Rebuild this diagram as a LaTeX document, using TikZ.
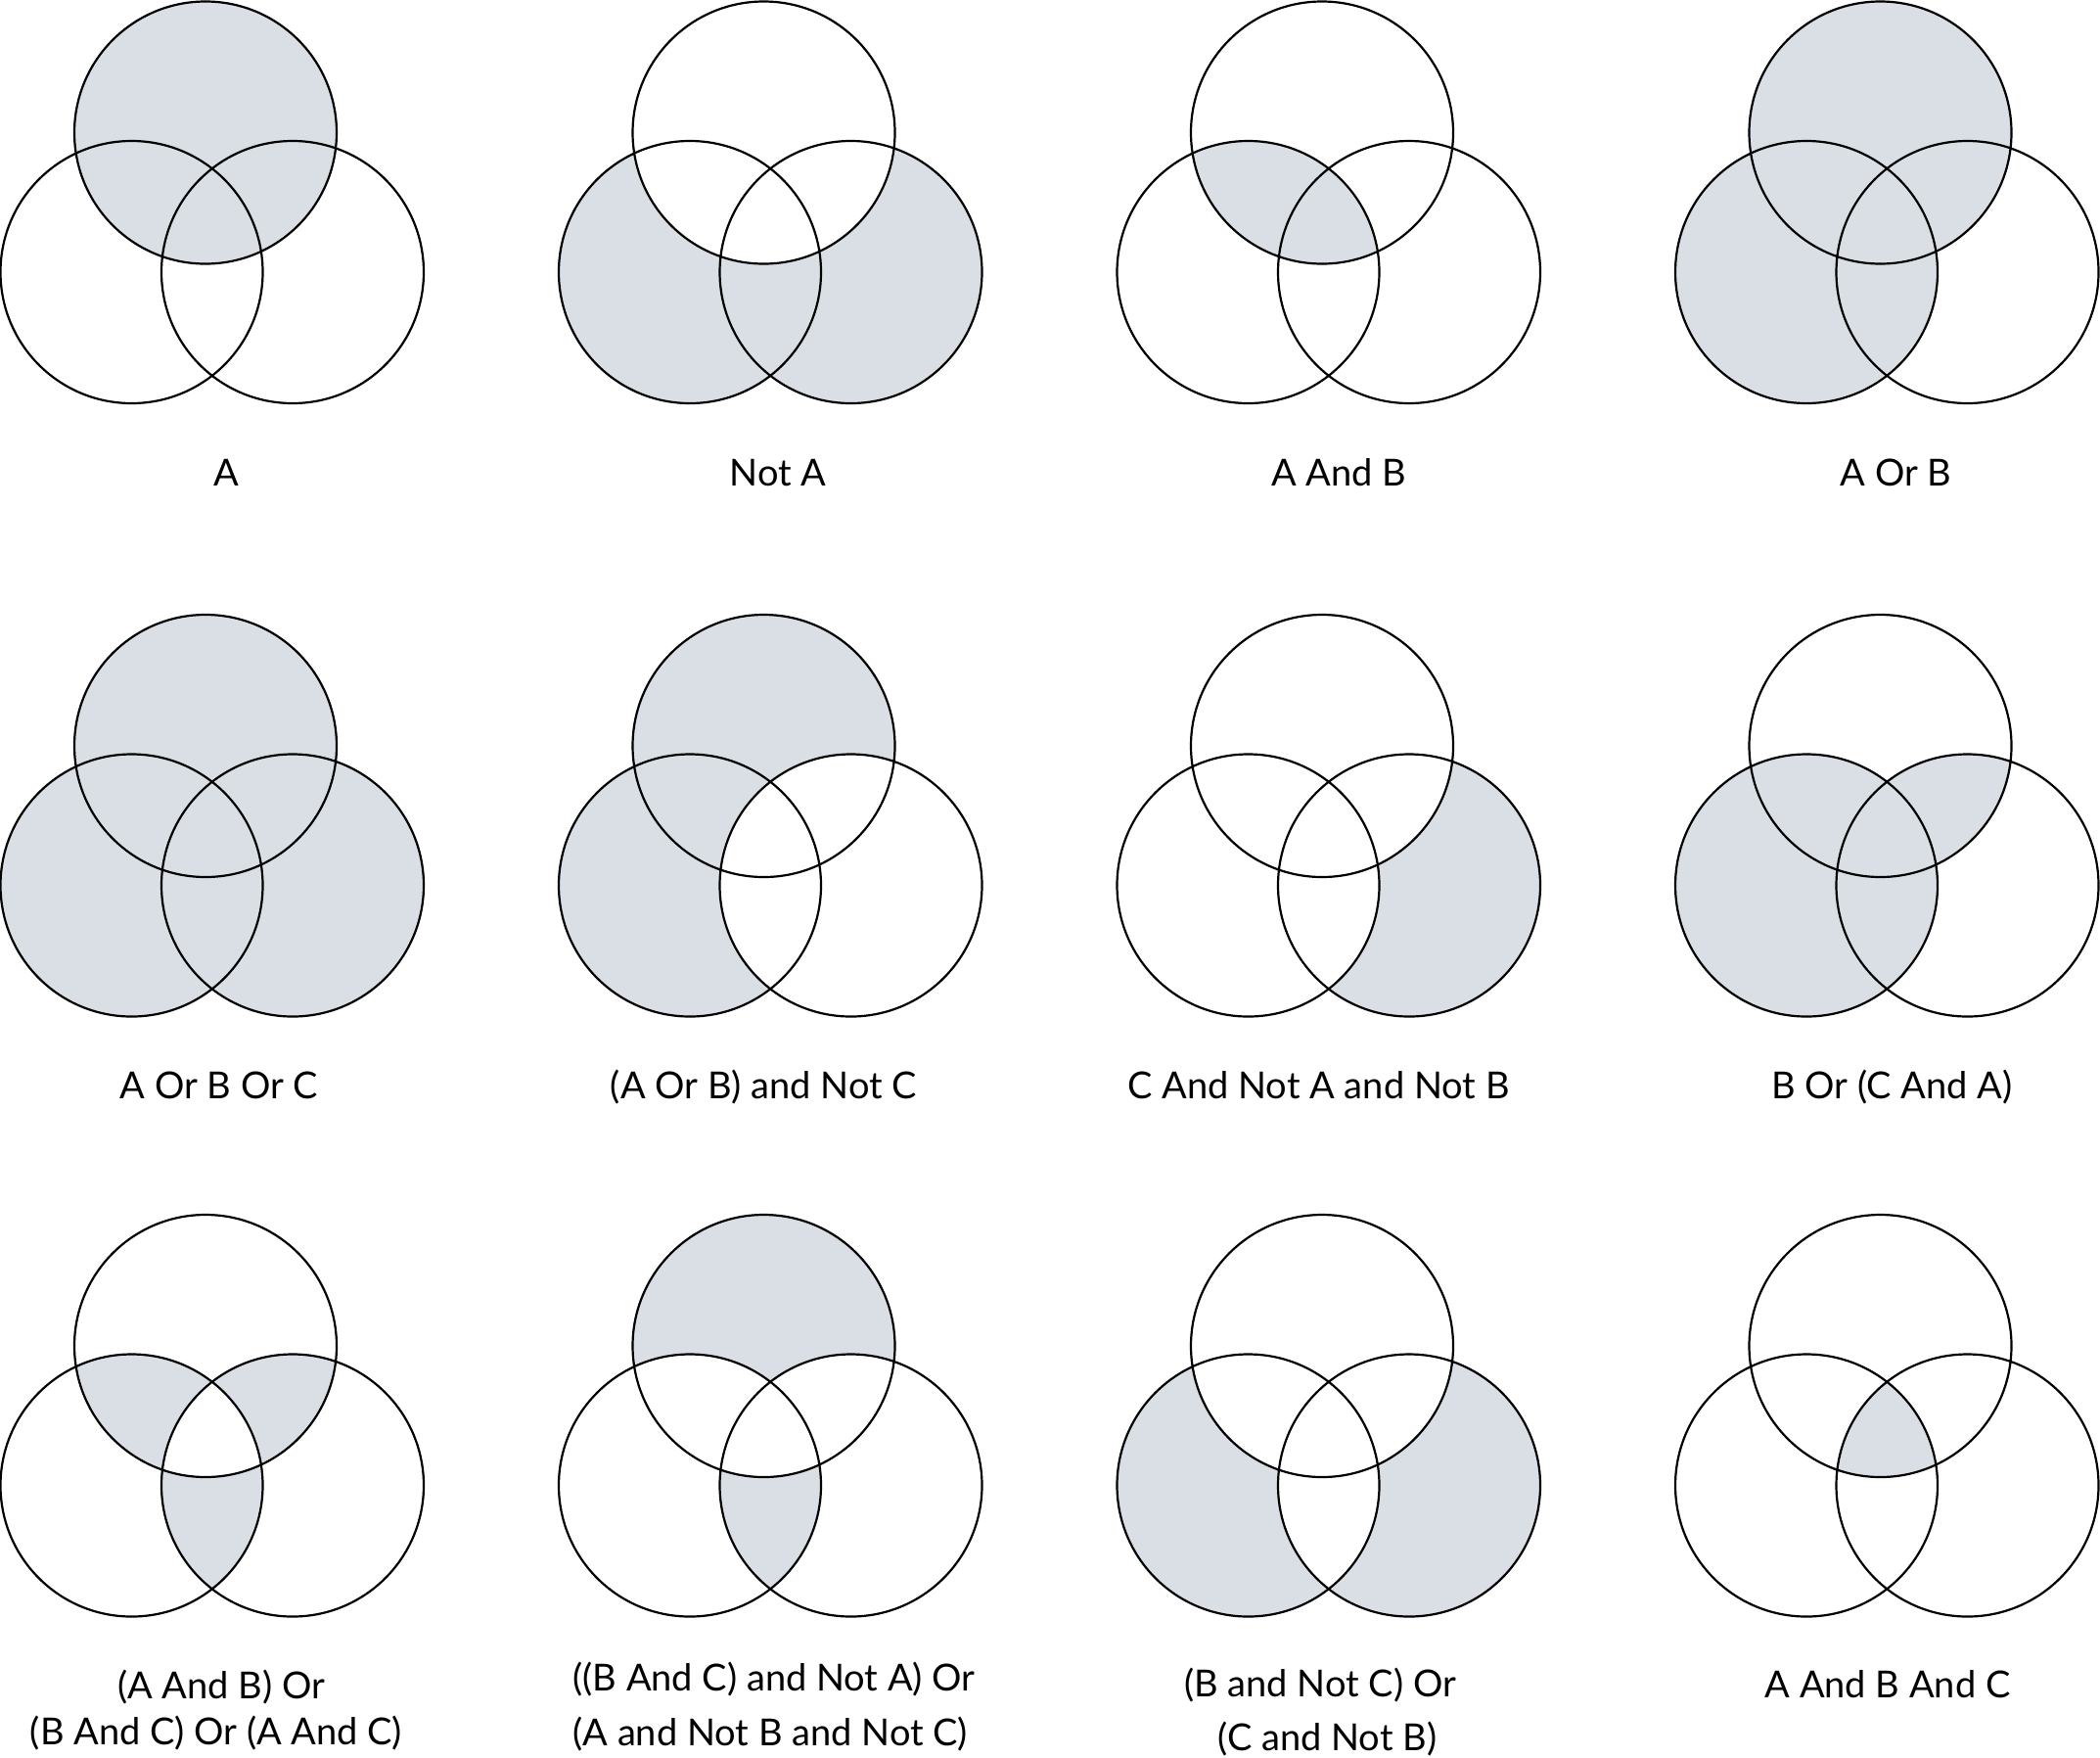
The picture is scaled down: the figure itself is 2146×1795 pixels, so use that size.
\documentclass[tikz,border=0pt]{standalone}
\usepackage{fontspec}
\setmainfont{Lato}
\definecolor{vennblue}{RGB}{218,223,229}
\newcommand{\vennr}{134}
% three circles of one diagram: A on top, B left, C right
\newcommand{\setvenn}[3]{%
  \coordinate (#1a) at (#2,#3);
  \coordinate (#1b) at (#2-75.5,#3+142.5);
  \coordinate (#1c) at (#2+89,#3+142.5);}
\newcommand{\vennout}[1]{\draw[vennline] (#1a) circle (\vennr) (#1b) circle (\vennr) (#1c) circle (\vennr);}
\tikzset{
  vennline/.style={draw=black,line width=1.1pt},
  vennfill/.style={fill=vennblue},
  venntext/.style={anchor=base,inner sep=0pt,text=black,font=\fontsize{19}{23}\selectfont}
}
\begin{document}
\begin{tikzpicture}[x=0.5pt,y=0.5pt,yscale=-1,xscale=1]
\useasboundingbox (0,0) rectangle (2146,1795);

%Venn: A
\setvenn{v1}{210}{135.5}
\fill[vennfill] (v1a) circle (\vennr);
\vennout{v1}

%Venn: Not A
\setvenn{v2}{780.5}{135.5}
\fill[vennfill] (v2b) circle (\vennr) (v2c) circle (\vennr);
\fill[white] (v2a) circle (\vennr);
\vennout{v2}

%Venn: A And B
\setvenn{v3}{1351}{135.5}
\begin{scope}
\clip (v3a) circle (\vennr);
\fill[vennfill] (v3b) circle (\vennr);
\end{scope}
\vennout{v3}

%Venn: A Or B
\setvenn{v4}{1921.5}{135.5}
\fill[vennfill] (v4a) circle (\vennr) (v4b) circle (\vennr);
\vennout{v4}

%Venn: A Or B Or C
\setvenn{v5}{210}{762}
\fill[vennfill] (v5a) circle (\vennr) (v5b) circle (\vennr) (v5c) circle (\vennr);
\vennout{v5}

%Venn: (A Or B) and Not C
\setvenn{v6}{780.5}{762}
\fill[vennfill] (v6a) circle (\vennr) (v6b) circle (\vennr);
\fill[white] (v6c) circle (\vennr);
\vennout{v6}

%Venn: C And Not A and Not B
\setvenn{v7}{1351}{762}
\fill[vennfill] (v7c) circle (\vennr);
\fill[white] (v7a) circle (\vennr) (v7b) circle (\vennr);
\vennout{v7}

%Venn: B Or (C And A)
\setvenn{v8}{1921.5}{762}
\fill[vennfill] (v8b) circle (\vennr);
\begin{scope}
\clip (v8c) circle (\vennr);
\fill[vennfill] (v8a) circle (\vennr);
\end{scope}
\vennout{v8}

%Venn: two of three
\setvenn{v9}{210}{1375}
\begin{scope}
\clip (v9a) circle (\vennr);
\fill[vennfill] (v9b) circle (\vennr) (v9c) circle (\vennr);
\end{scope}
\begin{scope}
\clip (v9b) circle (\vennr);
\fill[vennfill] (v9c) circle (\vennr);
\end{scope}
\begin{scope}
\clip (v9a) circle (\vennr);
\clip (v9b) circle (\vennr);
\fill[white] (v9c) circle (\vennr);
\end{scope}
\vennout{v9}

%Venn: A only, or B and C without A
\setvenn{v10}{780.5}{1375}
\begin{scope}
\clip (v10b) circle (\vennr);
\fill[vennfill] (v10c) circle (\vennr);
\end{scope}
\fill[vennfill] (v10a) circle (\vennr);
\begin{scope}
\clip (v10a) circle (\vennr);
\fill[white] (v10b) circle (\vennr) (v10c) circle (\vennr);
\end{scope}
\vennout{v10}

%Venn: B xor C
\setvenn{v11}{1351}{1375}
\fill[vennfill] (v11b) circle (\vennr) (v11c) circle (\vennr);
\begin{scope}
\clip (v11b) circle (\vennr);
\fill[white] (v11c) circle (\vennr);
\end{scope}
\fill[white] (v11a) circle (\vennr);
\vennout{v11}

%Venn: A And B And C
\setvenn{v12}{1921.5}{1375}
\begin{scope}
\clip (v12a) circle (\vennr);
\clip (v12b) circle (\vennr);
\fill[vennfill] (v12c) circle (\vennr);
\end{scope}
\vennout{v12}

% Text Node
\node[venntext] (lbl1) at (231,496) {A};
% Text Node
\node[venntext] (lbl2) at (795,496) {Not A};
% Text Node
\node[venntext] (lbl3) at (1368,496) {A And B};
% Text Node
\node[venntext] (lbl4) at (1937.5,496) {A Or B};
% Text Node
\node[venntext] (lbl5) at (224,1122) {A Or B Or C};
% Text Node
\node[venntext] (lbl6) at (780.5,1122) {(A Or B) and Not C};
% Text Node
\node[venntext] (lbl7) at (1347.5,1122) {C And Not A and Not B};
% Text Node
\node[venntext] (lbl8) at (1933.5,1122) {B Or (C And A)};
% Text Node
\node[venntext] (lbl9a) at (226,1735) {(A And B) Or};
\node[venntext] (lbl9b) at (221,1782) {(B And C) Or (A And C)};
% Text Node
\node[venntext,anchor=base west] (lbl10a) at (585,1727) {((B And C) and Not A) Or};
\node[venntext,anchor=base west] (lbl10b) at (585,1783) {(A and Not B and Not C)};
% Text Node
\node[venntext] (lbl11a) at (1349,1733) {(B and Not C) Or};
\node[venntext] (lbl11b) at (1356.5,1788) {(C and Not B)};
% Text Node
\node[venntext] (lbl12) at (1929,1734) {A And B And C};

\end{tikzpicture}
\end{document}
